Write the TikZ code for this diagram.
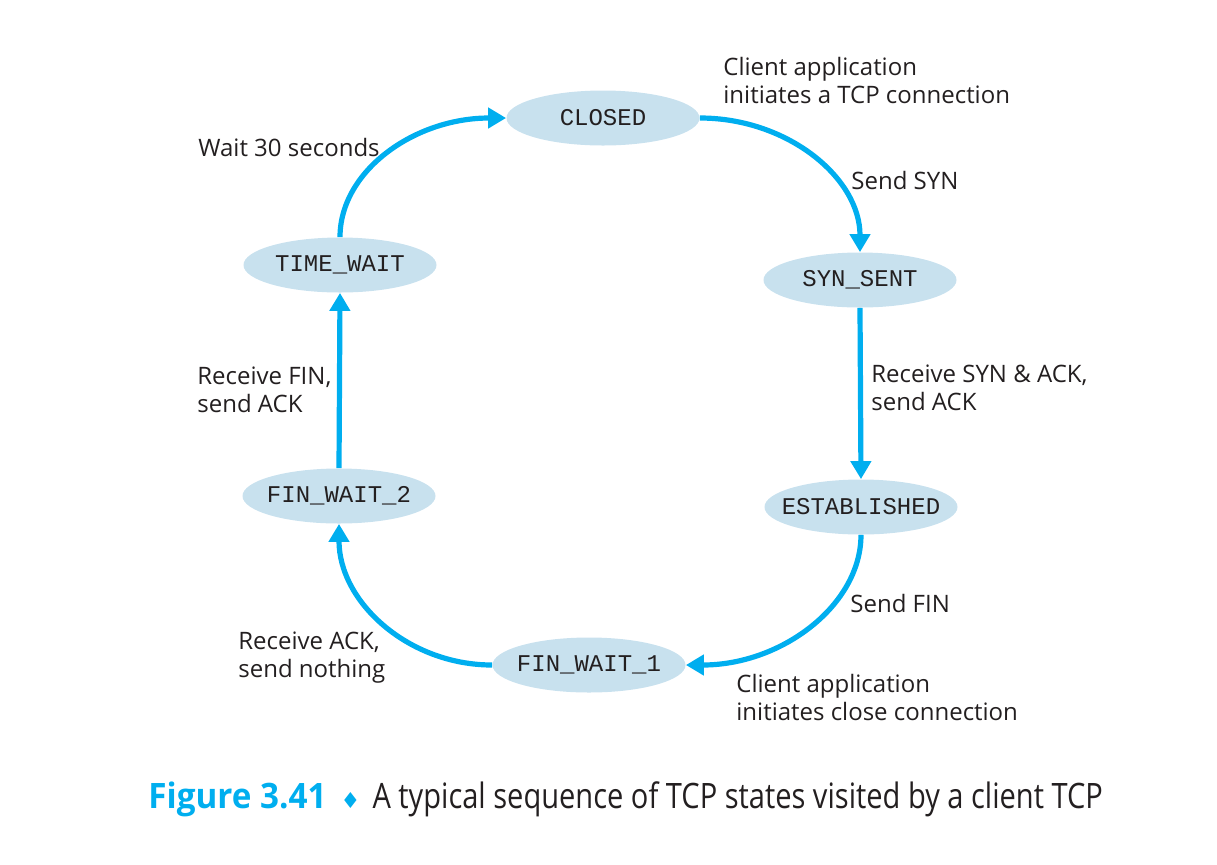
\documentclass[tikz,border=0pt]{standalone}
\usepackage{fontspec}
\setmainfont{Open Sans}
\newfontfamily\statefont{Liberation Mono}
\newfontfamily\capfont[FakeStretch=0.83]{Open Sans}
\newfontfamily\capboldfont[FakeStretch=0.95]{Open Sans}
\usetikzlibrary{arrows.meta,shapes.geometric,calc}
\definecolor{arrowblue}{RGB}{0,174,239}
\definecolor{statefill}{RGB}{200,225,238}
\definecolor{textgray}{RGB}{35,31,32}
\newcommand{\st}[1]{\makebox[0pt]{#1}}
\begin{document}
\begin{tikzpicture}[x=0.5pt,y=-0.5pt,
  state/.style={ellipse, fill=statefill, minimum width=96.5pt, minimum height=27.5pt, inner sep=0pt,
    font=\statefont\fontsize{12}{14}\selectfont, text=textgray},
  trans/.style={draw=arrowblue, line width=2.6pt, -{Triangle[length=9pt,width=10pt]}},
  lbl/.style={anchor=base west, align=left, inner sep=0pt, text=textgray,
    font=\fontsize{12}{14}\selectfont}
]
\path[use as bounding box] (0,0) rectangle (1217,864);
\node[state] (cl) at (603,118) {\st{CLOSED}};
\node[state] (ss) at (860,280) {\st{SYN\_SENT}};
\node[state] (es) at (861,507) {\st{ESTABLISHED}};
\node[state] (f1) at (589,665) {\st{FIN\_WAIT\_1}};
\node[state] (f2) at (339,496) {\st{FIN\_WAIT\_2}};
\node[state] (tw) at (340,265) {\st{TIME\_WAIT}};

\draw[trans] (tw.north) .. controls ($(tw.north)+(0,-66)$) and ($(cl.west)+(-92,0)$) .. (cl.west);
\draw[trans] (cl.east) .. controls ($(cl.east)+(88,0)$) and ($(ss.north)+(0,-74)$) .. (ss.north);
\draw[trans] (ss.south) -- (es.north);
\draw[trans] (es.south) .. controls ($(es.south)+(0,70)$) and ($(f1.east)+(96,0)$) .. (f1.east);
\draw[trans] (f1.west) .. controls ($(f1.west)+(-84,0)$) and ($(f2.south)+(0,78)$) .. (f2.south);
\draw[trans] (f2.north) -- (tw.south);

\node[lbl] (l1) at (723,103) {Client application\\initiates a TCP connection};
\node[lbl] (l2) at (851,189) {Send SYN};
\node[lbl] (l3) at (198,156) {Wait 30 seconds};
\node[lbl] (l4) at (871,410) {Receive SYN \& ACK,\\send ACK};
\node[lbl] (l5) at (197,412) {Receive FIN,\\send ACK};
\node[lbl] (l6) at (850,612) {Send FIN};
\node[lbl] (l7) at (238,677) {Receive ACK,\\send nothing};
\node[lbl] (l8) at (736,720) {Client application\\initiates close connection};

\node[anchor=base west, inner sep=0pt, font=\capfont\fontsize{17.5}{20}\selectfont, text=textgray] (cap) at (148,808)
  {\textcolor{arrowblue}{\capboldfont\bfseries Figure 3.41}\hspace{0.4em}{\color{arrowblue}\fontspec{DejaVu Sans}\fontsize{11}{12}\selectfont ♦}\hspace{0.35em}A typical sequence of TCP states visited by a client TCP};
\end{tikzpicture}
\end{document}
